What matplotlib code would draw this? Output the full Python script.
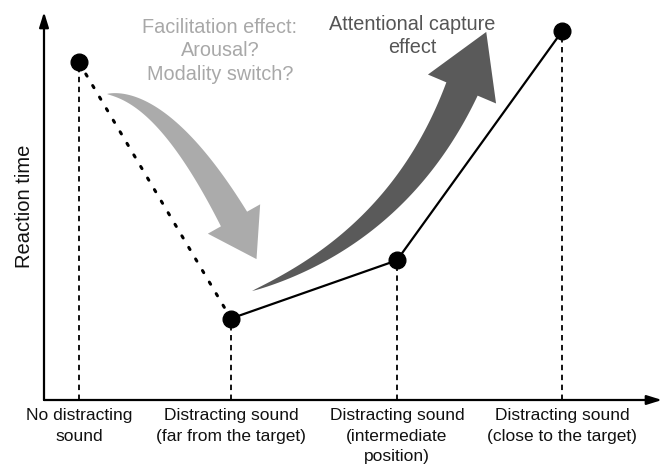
import numpy as np
import matplotlib
matplotlib.use("Agg")
import matplotlib.pyplot as plt
from matplotlib.patches import Polygon

plt.rcParams['font.family'] = ['Liberation Sans', 'DejaVu Sans']

# ---- data ----
categories = ["No distracting\nsound",
              "Distracting sound\n(far from the target)",
              "Distracting sound\n(intermediate\nposition)",
              "Distracting sound\n(close to the target)"]
reaction_time = [87, 21, 36, 95]          # arbitrary units
ylabel = "Reaction time"
facilitation_text = "Facilitation effect:\nArousal?\nModality switch?"
capture_text = "Attentional capture\neffect"

# ---- layout ----
W, H = 663, 468
x_pos = [0, 1, 2.092, 3.178]
fig = plt.figure(figsize=(W / 100, H / 100), dpi=100)
ax = fig.add_axes([44 / W, (H - 400) / H, (662 - 44) / W, (400 - 12) / H])
ax.set_xlim(-0.230, 3.836)
ax.set_ylim(0, 100)
for s in ax.spines.values():
    s.set_visible(False)

# axes with arrow heads
arrow_kw = dict(arrowstyle='-|>,head_length=0.9,head_width=0.28', color='black',
                lw=1.6, shrinkA=0, shrinkB=0)
ax.annotate('', xy=(1, 0), xytext=(0, 0), xycoords='axes fraction',
            textcoords='axes fraction', arrowprops=arrow_kw, annotation_clip=False)
ax.annotate('', xy=(0, 1), xytext=(0, 0), xycoords='axes fraction',
            textcoords='axes fraction', arrowprops=arrow_kw, annotation_clip=False)

# vertical dashed drop lines
ax.vlines(x_pos, 0, reaction_time, colors='black', lw=1.3,
          linestyles=[(0, (3, 2.5))], zorder=2)

# dotted segment (no sound -> far) and solid segments
ax.plot(x_pos[:2], reaction_time[:2], color='black', lw=2.2,
        linestyle=(0, (0.8, 3.6)), dash_capstyle='round', zorder=3)
ax.plot(x_pos[1:], reaction_time[1:], color='black', lw=1.6, zorder=3)
ax.plot(x_pos, reaction_time, 'o', color='black', ms=12, zorder=4)

ax.set_xticks(x_pos)
ax.set_xticklabels(categories, fontsize=12.5, color='#111111', linespacing=1.45)
ax.tick_params(axis='x', length=0, pad=6)
ax.set_yticks([])
ax.set_ylabel(ylabel, fontsize=14.5, color='#111111', labelpad=7)


# ---- curved block arrows (pixel coordinates, y downward) ----
def to_fig(p):
    p = np.asarray(p, dtype=float)
    return np.column_stack([p[:, 0] / W, 1 - p[:, 1] / H])


def curved_arrow(p0, c, p1, w_end, head_w, head_len, color, power=0.8):
    p0, c, p1 = map(np.asarray, (p0, c, p1))
    t = np.linspace(0, 1, 80)[:, None]
    pts = (1 - t) ** 2 * p0 + 2 * (1 - t) * t * c + t ** 2 * p1
    d = 2 * (1 - t) * (c - p0) + 2 * t * (p1 - c)
    d = d / np.linalg.norm(d, axis=1, keepdims=True)
    n = np.column_stack([-d[:, 1], d[:, 0]])
    w = w_end * t[:, 0] ** power
    left = pts + n * w[:, None] / 2
    right = pts - n * w[:, None] / 2
    T, N = d[-1], n[-1]
    head = [p1 + N * head_w / 2, p1 + T * head_len, p1 - N * head_w / 2]
    poly = np.vstack([left, head, right[::-1]])
    fig.patches.append(Polygon(to_fig(poly), closed=True, transform=fig.transFigure,
                               facecolor=color, edgecolor='none', zorder=1))


curved_arrow((107, 94), (165, 96), (234, 219), 30, 60, 46, '#ababab')
curved_arrow((252, 291), (400, 235), (462, 89), 34, 74, 62, '#5a5a5a')

fig.text(220 / W, 1 - 51 / H, facilitation_text, ha='center', va='center',
         fontsize=14.3, color='#a8a8a8', linespacing=1.32)
fig.text(412 / W, 1 - 36 / H, capture_text, ha='center', va='center',
         fontsize=14.3, color='#555555', linespacing=1.32)

fig.savefig('out.png', dpi=100)
